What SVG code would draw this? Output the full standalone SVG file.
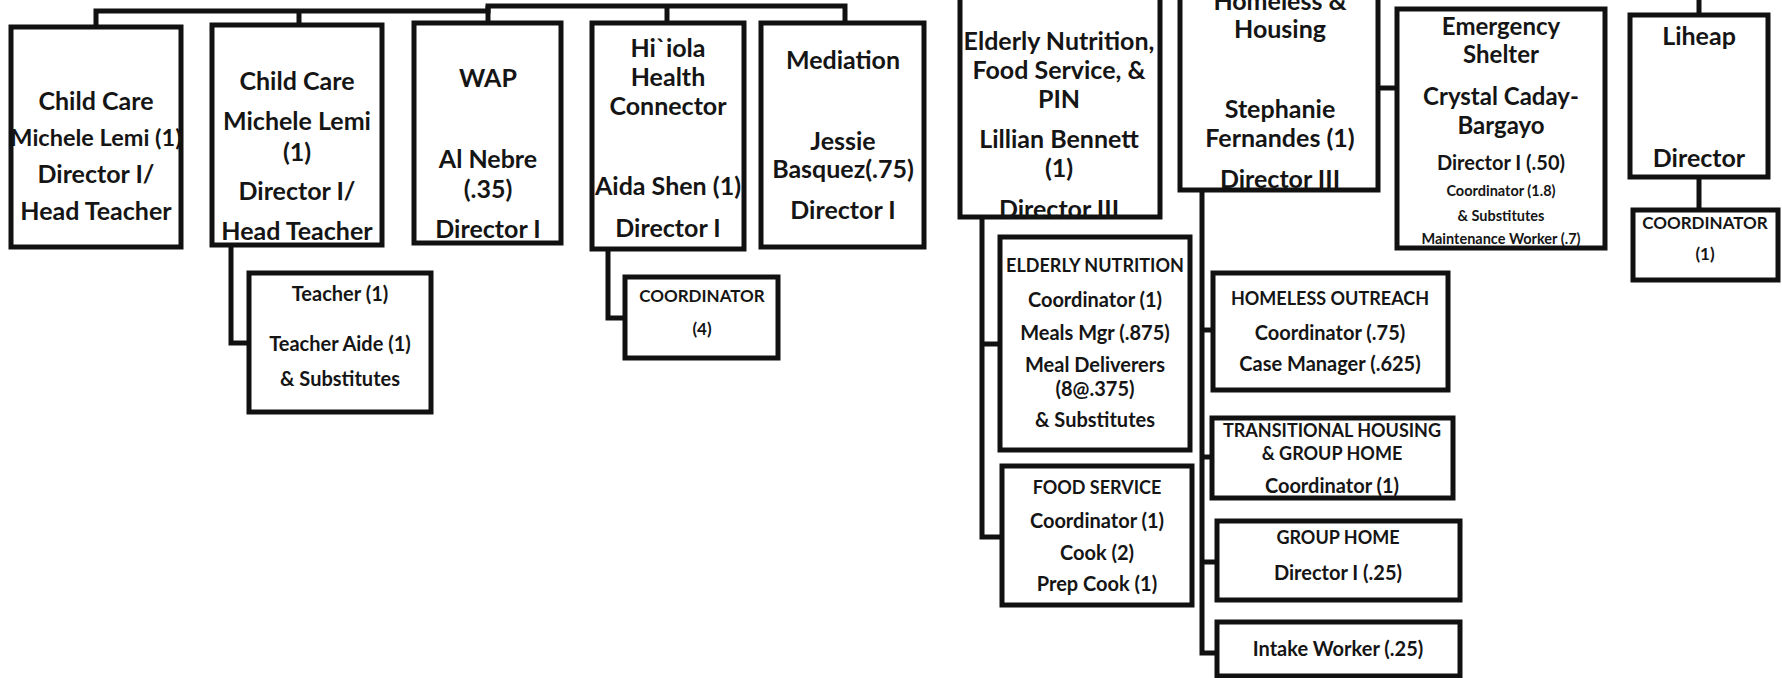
<svg xmlns="http://www.w3.org/2000/svg" width="1782" height="678" viewBox="0 0 1782 678">
<style>
.box{fill:#fff;stroke:#111;stroke-width:5}
.ln{fill:none;stroke:#111;stroke-width:5}
text{font-family:Lato,"Liberation Sans",sans-serif;font-weight:700;fill:#151515;text-anchor:middle;dominant-baseline:central}
.a{font-size:25px}
.a2{font-size:23.5px}
.e{font-size:24px}
.b{font-size:20px}
.c{font-size:18px}
.s{font-size:17px}
.d{font-size:14.5px}
</style>
<rect width="1782" height="678" fill="#fff"/>
<g id="connectors">
<path class="ln" d="M96,28 V11 H488 V6 H845 V23"/>
<path class="ln" d="M299,11 V26"/>
<path class="ln" d="M488,6 V23"/>
<path class="ln" d="M667,6 V23"/>
<path class="ln" d="M231,246 V343 H249"/>
<path class="ln" d="M608,249 V318 H625"/>
<path class="ln" d="M982,217 V537 H1002"/>
<path class="ln" d="M982,344 H1000"/>
<path class="ln" d="M1202,190 V653 H1217"/>
<path class="ln" d="M1202,330 H1213"/>
<path class="ln" d="M1202,457 H1212"/>
<path class="ln" d="M1202,562 H1217"/>
<path class="ln" d="M1377,88 H1397"/>
<path class="ln" d="M1699,0 V15"/>
<path class="ln" d="M1699,177 V210"/>
</g>
<g id="n1"><rect class="box" x="11" y="27" width="170" height="220"/>
<text class="a" x="96" y="100">Child Care</text><text class="a2" x="96" y="137">Michele Lemi (1)</text><text class="a" x="96" y="173">Director I/</text><text class="a" x="96" y="210">Head Teacher</text></g>
<g id="n2"><rect class="box" x="212" y="25" width="170" height="220"/>
<text class="a" x="297" y="80">Child Care</text><text class="a" x="297" y="120">Michele Lemi</text><text class="a" x="297" y="151">(1)</text><text class="a" x="297" y="190">Director I/</text><text class="a" x="297" y="230">Head Teacher</text></g>
<g id="n3"><rect class="box" x="414" y="23" width="147" height="220"/>
<text class="a" x="488" y="77">WAP</text><text class="a" x="488" y="158">Al Nebre</text><text class="a" x="488" y="188">(.35)</text><text class="a" x="488" y="228">Director I</text></g>
<g id="n4"><rect class="box" x="592" y="23" width="152" height="226"/>
<text class="a" x="668" y="47">Hi`iola</text><text class="a" x="668" y="76">Health</text><text class="a" x="668" y="105">Connector</text><text class="a" x="668" y="185">Aida Shen (1)</text><text class="a" x="668" y="227">Director I</text></g>
<g id="n5"><rect class="box" x="761" y="23" width="163" height="224"/>
<text class="a" x="843" y="59">Mediation</text><text class="a" x="843" y="140">Jessie</text><text class="a" x="843" y="168">Basquez(.75)</text><text class="a" x="843" y="209">Director I</text></g>
<g id="n6"><rect class="box" x="960" y="-10" width="200" height="227"/>
<text class="a" x="1059" y="40">Elderly Nutrition,</text><text class="a" x="1059" y="69">Food Service, &amp;</text><text class="a" x="1059" y="98">PIN</text><text class="a" x="1059" y="138">Lillian Bennett</text><text class="a" x="1059" y="167">(1)</text><text class="a" x="1059" y="208">Director  III</text></g>
<g id="n7"><rect class="box" x="1180" y="-10" width="198" height="200"/>
<text class="a" x="1280" y="0">Homeless &amp;</text><text class="a" x="1280" y="28">Housing</text><text class="a" x="1280" y="108">Stephanie</text><text class="a" x="1280" y="137">Fernandes (1)</text><text class="a" x="1280" y="178">Director III</text></g>
<g id="n8"><rect class="box" x="1397" y="9" width="208" height="239"/>
<text class="e" x="1501" y="25">Emergency</text><text class="e" x="1501" y="53">Shelter</text><text class="e" x="1501" y="95">Crystal Caday-</text><text class="e" x="1501" y="124">Bargayo</text><text class="b" x="1501" y="162">Director I (.50)</text><text class="d" x="1501" y="190">Coordinator (1.8)</text><text class="d" x="1501" y="215">&amp; Substitutes</text><text class="d" x="1501" y="238">Maintenance Worker (.7)</text></g>
<g id="n9"><rect class="box" x="1630" y="15" width="138" height="162"/>
<text class="a" x="1699" y="35">Liheap</text><text class="a" x="1699" y="157">Director</text></g>
<g id="n10"><rect class="box" x="1633" y="210" width="145" height="70"/>
<text class="s" x="1705" y="222">COORDINATOR</text><text class="s" x="1705" y="253">(1)</text></g>
<g id="n11"><rect class="box" x="249" y="273" width="182" height="139"/>
<text class="b" x="340" y="293">Teacher (1)</text><text class="b" x="340" y="343">Teacher Aide (1)</text><text class="b" x="340" y="378">&amp; Substitutes</text></g>
<g id="n12"><rect class="box" x="625" y="277" width="153" height="81"/>
<text class="s" x="702" y="295">COORDINATOR</text><text class="s" x="702" y="328">(4)</text></g>
<g id="n13"><rect class="box" x="1000" y="237" width="190" height="213"/>
<text class="c" x="1095" y="265">ELDERLY NUTRITION</text><text class="b" x="1095" y="299">Coordinator (1)</text><text class="b" x="1095" y="332">Meals Mgr (.875)</text><text class="b" x="1095" y="364">Meal Deliverers</text><text class="b" x="1095" y="388">(8@.375)</text><text class="b" x="1095" y="419">&amp; Substitutes</text></g>
<g id="n14"><rect class="box" x="1002" y="466" width="190" height="139"/>
<text class="c" x="1097" y="487">FOOD SERVICE</text><text class="b" x="1097" y="520">Coordinator (1)</text><text class="b" x="1097" y="552">Cook (2)</text><text class="b" x="1097" y="583">Prep Cook (1)</text></g>
<g id="n15"><rect class="box" x="1213" y="273" width="235" height="117"/>
<text class="c" x="1330" y="298">HOMELESS OUTREACH</text><text class="b" x="1330" y="332">Coordinator (.75)</text><text class="b" x="1330" y="363">Case Manager (.625)</text></g>
<g id="n16"><rect class="box" x="1212" y="418" width="241" height="80"/>
<text class="c" x="1332" y="430">TRANSITIONAL HOUSING</text><text class="c" x="1332" y="453">&amp; GROUP HOME</text><text class="b" x="1332" y="485">Coordinator (1)</text></g>
<g id="n17"><rect class="box" x="1217" y="521" width="243" height="79"/>
<text class="c" x="1338" y="537">GROUP HOME</text><text class="b" x="1338" y="572">Director I (.25)</text></g>
<g id="n18"><rect class="box" x="1217" y="622" width="243" height="54"/>
<text class="b" x="1338" y="648">Intake Worker (.25)</text></g>
</svg>
